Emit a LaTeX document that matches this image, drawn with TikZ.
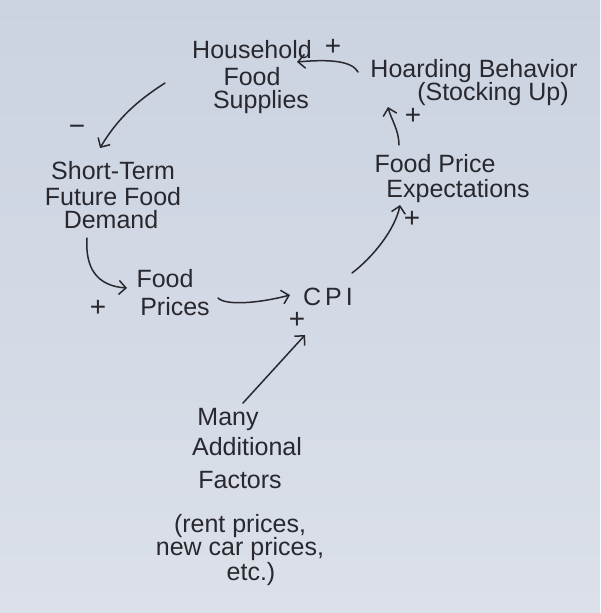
\documentclass[tikz,border=0pt]{standalone}
\usepackage{fontspec}
\setmainfont{Liberation Sans}
\usetikzlibrary{arrows.meta}
\definecolor{paperTop}{RGB}{203,211,225}
\definecolor{paperBot}{RGB}{219,224,233}
\definecolor{ink}{RGB}{40,40,46}
\begin{document}
\begin{tikzpicture}[x=1pt,y=-1pt,
  var/.style={align=center, anchor=base, inner sep=0pt, text=ink, font=\fontsize{25}{25}\selectfont},
  pol/.style={text=ink, inner sep=0pt, font=\fontsize{28}{28}\selectfont},
  link/.style={draw=ink, line width=1.5pt, line cap=round, -{Straight Barb[length=7pt,width=14pt]}}]
\shade[top color=paperTop,bottom color=paperBot] (0,0) rectangle (600,613);
\useasboundingbox (0,0) rectangle (600,613);

% base anchor = baseline of the last line
\node[var] (house) at (252,108) {Household\\[2pt]Food\hspace*{44pt}\\[-2pt]\hspace*{18pt}Supplies};
\node[var] (hoard) at (474,100) {Hoarding Behavior\\[-2pt]\hspace*{38pt}(Stocking Up)};
\node[var] (exp) at (435,197) {Food Price\\\hspace*{46pt}Expectations};
\node[var] (cpi) at (328,305) {C\hspace{4pt}P\hspace{4pt}I};
\node[var] (prices) at (165,315) {Food\\[3pt]\hspace*{20pt}Prices};
\node[var] (demand) at (113,228) {Short-Term\\[1pt]Future Food\hspace*{12pt}\\[-2pt]Demand\hspace*{4pt}};
\node[var] (factors) at (240,580) {Many\hspace*{24pt}\\[5pt]\hspace*{14pt}Additional\\[8pt]Factors\\[19pt](rent prices,\hspace*{4pt}\\[-2pt]new car prices,\\\hspace*{22pt}etc.)};

\node[pol] (p1) at (333,47) {+};
\node[pol] (m1) at (77,130) {−};
\node[pol] (p2) at (98,308) {+};
\node[pol] (p3) at (297,320) {+};
\node[pol] (p4) at (412,219) {+};
\node[pol] (p5) at (413,116) {+};

\draw[link] ([shift={(-116,-28)}]hoard.base) .. controls +(-6,-11) and +(33,-3) .. ([shift={(45,-46)}]house.base);
\draw[link] ([shift={(-87,-25)}]house.base) .. controls +(-28,18) and +(18,-30) .. ([shift={(-13,-80)}]demand.base);
\draw[link] ([shift={(-26,10)}]demand.base) .. controls +(-2,30) and +(-30,-2) .. ([shift={(-38,-27)}]prices.base);
\draw[link] ([shift={(53,-17)}]prices.base) .. controls +(8,8) and +(-30,8) .. ([shift={(-38,-10)}]cpi.base);
\draw[link] ([shift={(3,-177)}]factors.base) -- ([shift={(-23,30)}]cpi.base);
\draw[link] ([shift={(24,-32)}]cpi.base) .. controls +(20,-15) and +(-5,25) .. ([shift={(-35,8)}]exp.base);
\draw[link] ([shift={(-36,-52)}]exp.base) .. controls +(0,-15) and +(3,12) .. ([shift={(-86,7)}]hoard.base);
\end{tikzpicture}
\end{document}
